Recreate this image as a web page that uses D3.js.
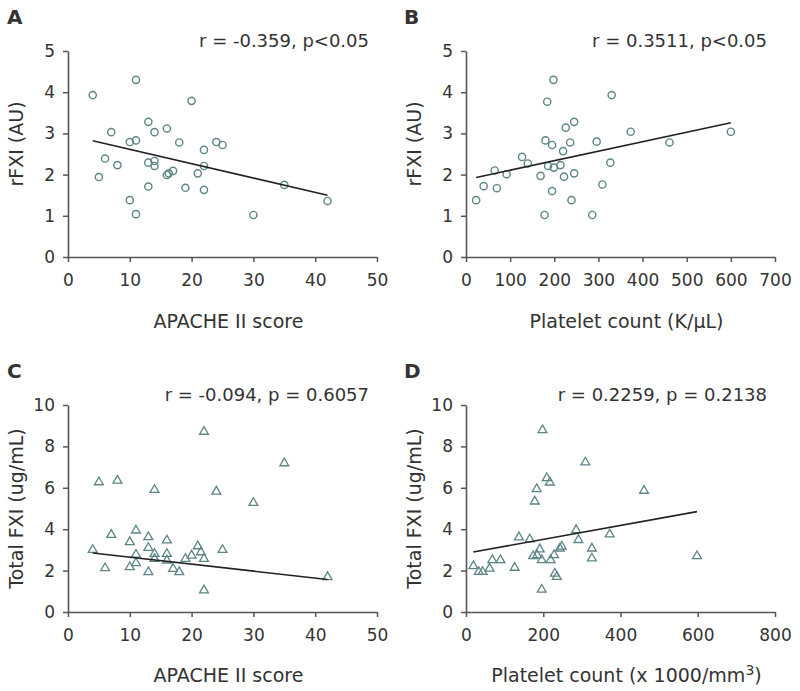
<!DOCTYPE html>
<html>
<head>
<meta charset="utf-8">
<script src="https://cdn.jsdelivr.net/npm/d3@7"></script>
<style>
  html, body { margin: 0; padding: 0; background: #fff; }
  svg { display: block; }
  text { font-family: "DejaVu Sans", "Liberation Sans", sans-serif; fill: #333; }
</style>
</head>
<body>
<svg id="chart" width="800" height="691"></svg>
<script>
// ---------------- DATA ----------------
// Panel A: rFXI vs APACHE II score
const apacheA = [4,5,6,7,8,10,10,11,11,11,13,13,13,14,14,14,16,16,16.3,17,18,19,20,21,22,22,22,24,25,30,35,42];
const rfxiA   = [3.93,1.94,2.39,3.03,2.23,2.79,1.38,4.30,2.83,1.04,3.28,2.29,1.71,3.03,2.33,2.21,3.12,1.99,2.03,2.09,2.78,1.68,3.79,2.03,2.60,2.21,1.63,2.79,2.72,1.02,1.75,1.36];
// Panel B: rFXI vs platelet count
const plateletB = [23,40,65,70,92,127,140,169,178,180,184,186,195,195,198,199,214,220,222,226,236,239,245,245,286,296,309,327,330,373,461,600];
const rfxiB     = [1.38,1.72,2.10,1.67,2.01,2.43,2.27,1.97,1.02,2.83,3.77,2.21,2.72,1.60,4.30,2.17,2.23,2.57,1.95,3.14,2.78,1.38,3.28,2.03,1.02,2.80,1.76,2.29,3.93,3.04,2.78,3.04];
// Panel C: Total FXI vs APACHE II score
const apacheC = [4,5,6,7,8,10,10,11,11,11,13,13,13,14,14,14,16,16,16,17,18,19,20,21,21.5,22,22,22,24,25,30,35,42];
const fxiC    = [3.0,6.27,2.12,3.73,6.35,3.38,2.17,3.94,2.77,2.36,3.62,3.10,1.93,5.90,2.81,2.57,3.46,2.81,2.49,2.09,1.93,2.57,2.73,3.18,2.89,8.71,2.57,1.05,5.82,3.0,5.27,7.19,1.69];
// Panel D: Total FXI vs platelet count
const plateletD = [19,33,43,61,68,89,126,137,165,174,178,183,184,191,196,196,198,209,217,219,228,230,235,243,248,285,291,309,326,326,372,461,598];
const fxiD      = [2.22,1.94,1.94,2.10,2.51,2.51,2.14,3.61,3.51,2.70,5.34,5.94,2.75,3.03,2.51,1.08,8.79,6.47,6.26,2.51,2.75,1.86,1.70,3.07,3.16,3.96,3.48,7.23,3.07,2.59,3.75,5.86,2.70];
// Regression line end points [x0, y0, x1, y1]
const fitA = [4, 2.82, 42, 1.50];
const fitB = [23, 1.93, 600, 3.26];
const fitC = [4, 2.85, 42, 1.57];
const fitD = [19, 2.90, 598, 4.85];
// Labels
const panelLetters = ["A","B","C","D"];
const statTexts = ["r = -0.359, p<0.05", "r = 0.3511, p<0.05", "r = -0.094, p = 0.6057", "r = 0.2259, p = 0.2138"];
const yTitles = ["rFXI (AU)", "rFXI (AU)", "Total FXI (ug/mL)", "Total FXI (ug/mL)"];
const xTicksA = [0,10,20,30,40,50];
const xTicksB = [0,100,200,300,400,500,600,700];
const xTicksC = [0,10,20,30,40,50];
const xTicksD = [0,200,400,600,800];
const yTicksTop = [0,1,2,3,4,5];
const yTicksBottom = [0,2,4,6,8,10];

// ---------------- LAYOUT ----------------
const svg = d3.select("#chart");
const pointColor = "#5e8585";

const panels = [
  { xs: apacheA, ys: rfxiA, fit: fitA, xDom: [0,50], yDom: [0,5], xTicks: xTicksA, yTicks: yTicksTop,
    x0: 68, x1: 377, y0: 257, y1: 51, letterX: 7, marker: "circle", xTitle: "APACHE II score" },
  { xs: plateletB, ys: rfxiB, fit: fitB, xDom: [0,700], yDom: [0,5], xTicks: xTicksB, yTicks: yTicksTop,
    x0: 466, x1: 775, y0: 257, y1: 51, letterX: 404, marker: "circle", xTitle: "Platelet count (K/\u00B5L)" },
  { xs: apacheC, ys: fxiC, fit: fitC, xDom: [0,50], yDom: [0,10], xTicks: xTicksC, yTicks: yTicksBottom,
    x0: 68, x1: 377, y0: 612, y1: 405, letterX: 7, marker: "triangle", xTitle: "APACHE II score" },
  { xs: plateletD, ys: fxiD, fit: fitD, xDom: [0,800], yDom: [0,10], xTicks: xTicksD, yTicks: yTicksBottom,
    x0: 466, x1: 775, y0: 612, y1: 405, letterX: 404, marker: "triangle", xTitle: null }
];

panels.forEach((p, i) => {
  const g = svg.append("g");
  const x = d3.scaleLinear().domain(p.xDom).range([p.x0, p.x1]);
  const y = d3.scaleLinear().domain(p.yDom).range([p.y0, p.y1]);

  // axes
  const xAxis = d3.axisBottom(x).tickValues(p.xTicks).tickSize(5).tickSizeOuter(0).tickPadding(12).tickFormat(d3.format("d"));
  const yAxis = d3.axisLeft(y).tickValues(p.yTicks).tickSize(5).tickSizeOuter(0).tickPadding(8).tickFormat(d3.format("d"));
  const gx = g.append("g").attr("transform", `translate(0,${p.y0})`).call(xAxis);
  const gy = g.append("g").attr("transform", `translate(${p.x0},0)`).call(yAxis);
  [gx, gy].forEach(a => {
    a.select(".domain").attr("stroke", "#555").attr("stroke-width", 1.6);
    a.selectAll(".tick line").attr("stroke", "#555").attr("stroke-width", 1.5);
    a.selectAll(".tick text").style("font-size", "17px").style("font-family", '"DejaVu Sans", sans-serif').attr("fill", "#333");
  });

  // markers
  if (p.marker === "circle") {
    g.append("g").selectAll("circle").data(p.xs.map((v, k) => [v, p.ys[k]])).join("circle")
      .attr("cx", d => x(d[0])).attr("cy", d => y(d[1])).attr("r", 3.6)
      .attr("fill", "none").attr("stroke", pointColor).attr("stroke-width", 1.4);
  } else {
    const tri = d3.symbol().type(d3.symbolTriangle).size(34);
    g.append("g").selectAll("path").data(p.xs.map((v, k) => [v, p.ys[k]])).join("path")
      .attr("d", tri).attr("transform", d => `translate(${x(d[0])},${y(d[1])})`)
      .attr("fill", "none").attr("stroke", pointColor).attr("stroke-width", 1.3);
  }

  // regression line
  g.append("line")
    .attr("x1", x(p.fit[0])).attr("y1", y(p.fit[1]))
    .attr("x2", x(p.fit[2])).attr("y2", y(p.fit[3]))
    .attr("stroke", "#222").attr("stroke-width", 1.6);

  // panel letter
  const rowOff = i < 2 ? 0 : 354;
  g.append("text").attr("x", p.letterX).attr("y", 24 + rowOff)
    .style("font-size", "20px").style("font-weight", "bold").attr("fill", "#111").text(panelLetters[i]);

  // stats text
  g.append("text").attr("x", p.x1 - 8).attr("y", 47 + rowOff).attr("text-anchor", "end")
    .style("font-size", "18px").text(statTexts[i]);

  // y title
  const yc = (p.y0 + p.y1) / 2 - (i < 2 ? 10 : 0);
  g.append("text").attr("transform", `translate(${p.x0 - 45},${yc}) rotate(-90)`)
    .attr("text-anchor", "middle").style("font-size", "19px").text(yTitles[i]);

  // x title
  const xt = g.append("text").attr("x", (p.x0 + p.x1) / 2 + 6).attr("y", 328 + rowOff)
    .attr("text-anchor", "middle").style("font-size", "19px");
  if (p.xTitle) {
    xt.text(p.xTitle);
  } else {
    xt.append("tspan").text("Platelet count (x 1000/mm");
    xt.append("tspan").attr("dy", -7).style("font-size", "14px").text("3");
    xt.append("tspan").attr("dy", 7).text(")");
  }
});
</script>
</body>
</html>
